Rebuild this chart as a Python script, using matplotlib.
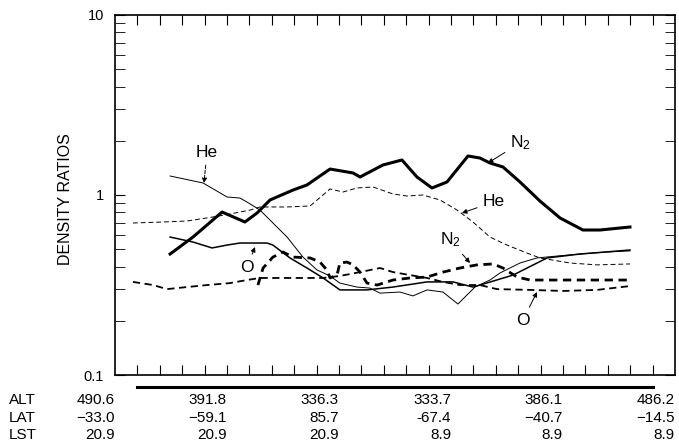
import matplotlib.pyplot as plt
import matplotlib.transforms as mtransforms

plt.rcParams['font.family'] = ['Liberation Sans', 'DejaVu Sans']
plt.rcParams['mathtext.default'] = 'regular'

# orbit position (x) and density ratio values
n2_x = [2.46, 3.48, 4.78, 5.80, 6.34, 6.92, 7.95, 8.57, 9.60, 10.63, 10.94, 11.96, 12.81,
        13.48, 14.15, 14.82, 15.76, 16.29, 16.74, 17.32, 18.08, 18.97, 19.87, 20.89, 21.65, 22.99]
n2_y = [0.470, 0.584, 0.804, 0.708, 0.794, 0.938, 1.066, 1.137, 1.394, 1.325, 1.259, 1.468, 1.565,
        1.259, 1.094, 1.181, 1.647, 1.605, 1.506, 1.431, 1.181, 0.926, 0.745, 0.639, 0.639, 0.664]

he_x = [2.46, 3.93, 5.0, 5.58, 5.89, 6.47, 7.05, 7.68, 8.39, 9.02, 9.6, 10.04, 10.8, 11.38, 11.83,
        12.72, 13.3, 13.93, 14.64, 15.31, 15.71, 16.07, 16.74, 17.19, 18.08, 18.84, 19.73, 20.76, 21.88, 22.99]
he_y = [1.275, 1.166, 0.975, 0.962, 0.914, 0.825, 0.699, 0.584, 0.452, 0.383, 0.355, 0.324, 0.308, 0.304, 0.285,
        0.289, 0.275, 0.297, 0.289, 0.248, 0.278, 0.308, 0.337, 0.369, 0.419, 0.447, 0.458, 0.470, 0.482, 0.489]

o_x = [2.46, 3.48, 4.33, 5.0, 5.58, 6.79, 7.05, 7.81, 8.57, 9.29, 10.04, 11.25, 12.41, 13.93, 15.09,
       15.98, 16.29, 17.77, 19.29, 20.76, 21.88, 22.99]
o_y = [0.584, 0.548, 0.508, 0.527, 0.541, 0.541, 0.527, 0.447, 0.393, 0.346, 0.297, 0.297, 0.308, 0.329, 0.329,
       0.308, 0.316, 0.359, 0.447, 0.470, 0.482, 0.495]

he2_x = [0.8, 2.14, 3.21, 4.38, 5.13, 6.03, 6.47, 7.68, 8.71, 9.6, 10.18, 10.8, 11.52, 12.41, 13.04,
         13.75, 14.51, 15.27, 15.98, 16.74, 17.5, 18.39, 18.97, 20.31, 21.52, 22.99]
he2_y = [0.699, 0.708, 0.717, 0.755, 0.784, 0.825, 0.858, 0.858, 0.869, 1.080, 1.039, 1.094, 1.108, 1.013, 0.987,
         1.0, 0.938, 0.825, 0.708, 0.584, 0.527, 0.476, 0.447, 0.419, 0.409, 0.414]

n22_x = [6.38, 6.61, 7.05, 7.5, 7.95, 8.71, 9.15, 9.46, 9.6, 9.91, 10.04, 10.36, 10.63, 10.94, 11.25,
         11.7, 12.41, 13.17, 13.93, 14.64, 15.4, 16.16, 16.88, 17.32, 17.95, 18.53, 20.0, 22.99]
n22_y = [0.316, 0.393, 0.452, 0.482, 0.452, 0.447, 0.424, 0.383, 0.346, 0.359, 0.419, 0.424, 0.409, 0.373, 0.324,
         0.316, 0.337, 0.346, 0.350, 0.373, 0.393, 0.409, 0.414, 0.393, 0.350, 0.337, 0.337, 0.337]

o2_x = [0.8, 1.7, 2.32, 3.21, 4.11, 5.13, 5.89, 6.47, 7.5, 8.71, 9.29, 10.04, 10.94, 11.83, 12.41,
        13.17, 13.93, 14.64, 15.4, 16.29, 17.05, 18.53, 20.0, 21.52, 22.99]
o2_y = [0.329, 0.316, 0.300, 0.308, 0.316, 0.324, 0.337, 0.346, 0.346, 0.346, 0.346, 0.355, 0.373, 0.393, 0.373,
        0.359, 0.346, 0.329, 0.316, 0.316, 0.300, 0.297, 0.293, 0.297, 0.312]

# orbit info table under the axis
row_names = ['ALT', 'LAT', 'LST']
col_pos = [0, 5, 10, 15, 20, 25]
alt = ['490.6', '391.8', '336.3', '333.7', '386.1', '486.2']
lat = ['\u221233.0', '\u221259.1', '85.7', '-67.4', '\u221240.7', '\u221214.5']
lst = ['20.9', '20.9', '20.9', '8.9', '8.9', '8.9']

fig = plt.figure(figsize=(6.79, 4.45), dpi=100)
ax = fig.add_axes([0.1694, 0.1573, 0.8247, 0.809])

# solid set
ax.plot(n2_x, n2_y, color='black', lw=2.2)
ax.plot(he_x, he_y, color='black', lw=0.7)
ax.plot(o_x, o_y, color='black', lw=1.1)
# dashed set
ax.plot(he2_x, he2_y, color='black', lw=0.7, ls=(0, (5, 3)))
ax.plot(n22_x, n22_y, color='black', lw=2.0, ls=(0, (3, 2)))
ax.plot(o2_x, o2_y, color='black', lw=1.3, ls=(0, (4, 2.5)))

ax.set_yscale('log')
ax.set_ylim(0.1, 10)
ax.set_xlim(0, 25)
ax.set_xticks(range(1, 25))
ax.set_xticklabels([])
ax.set_yticks([0.1, 1, 10])
ax.set_yticklabels(['0.1', '1', '10'])
ax.tick_params(axis='x', which='both', direction='in', top=True, bottom=True, length=7.5)
ax.tick_params(axis='y', which='both', direction='in', left=True, right=True, length=7.5, labelsize=10.5, pad=8)
ax.set_ylabel('DENSITY RATIOS', fontsize=11.5)
ax.yaxis.set_label_coords(-0.075, 0.49)
for s in ax.spines.values():
    s.set_linewidth(1.2)

# labels with arrows
arrow = dict(arrowstyle='-|>', color='black', lw=0.7, mutation_scale=7, shrinkA=2, shrinkB=0)
ax.annotate('He', xy=(3.97, 1.166), xytext=(4.11, 1.733), ha='center', va='center', fontsize=12.5,
            arrowprops=dict(arrow, ls='--'))
ax.annotate('N$_2$', xy=(16.65, 1.506), xytext=(18.1, 1.95), ha='center', va='center', fontsize=12.5,
            arrowprops=arrow)
ax.annotate('He', xy=(15.49, 0.794), xytext=(16.9, 0.915), ha='center', va='center', fontsize=12.5,
            arrowprops=arrow)
ax.annotate('N$_2$', xy=(15.85, 0.419), xytext=(14.96, 0.562), ha='center', va='center', fontsize=12.5,
            arrowprops=arrow)
ax.annotate('O', xy=(18.84, 0.289), xytext=(18.21, 0.202), ha='center', va='center', fontsize=12.5,
            arrowprops=arrow)
ax.annotate('O', xy=(6.25, 0.514), xytext=(5.89, 0.398), ha='center', va='center', fontsize=12.5,
            arrowprops=arrow)

# thick bar under the axis and the table
trans = mtransforms.blended_transform_factory(ax.transData, ax.transAxes)
ax.plot([1, 24], [-0.033, -0.033], color='black', lw=2.2, transform=trans, clip_on=False)

row_y = [-0.069, -0.119, -0.167]
for vals, yy, name in zip([alt, lat, lst], row_y, row_names):
    fig.text(0.013, ax.transAxes.transform((0, yy))[1] / fig.bbox.height, name,
             ha='left', va='center', fontsize=11)
    for xp, v in zip(col_pos, vals):
        ax.text(xp, yy, v, transform=trans, ha='right', va='center', fontsize=11)

fig.savefig('out.png', dpi=100)
